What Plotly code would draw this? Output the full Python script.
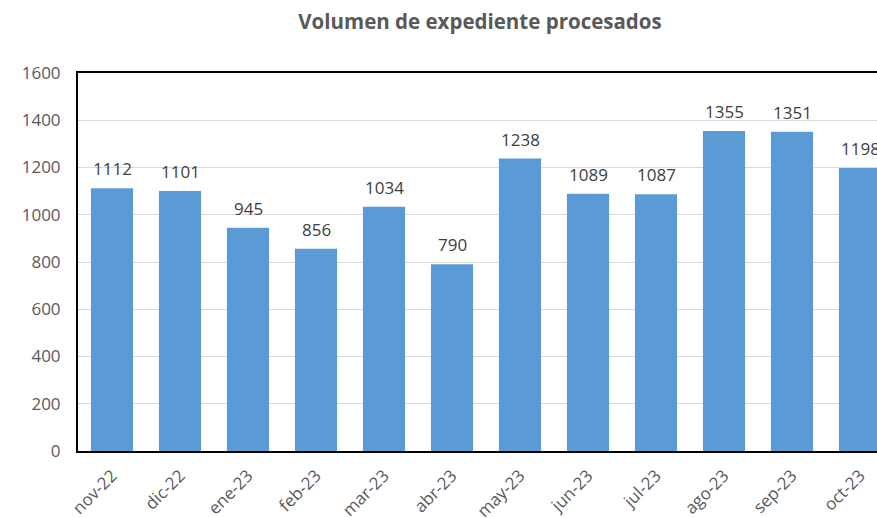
import plotly.graph_objects as go

months = ["nov-22", "dic-22", "ene-23", "feb-23", "mar-23", "abr-23",
          "may-23", "jun-23", "jul-23", "ago-23", "sep-23", "oct-23"]
volumes = [1112, 1101, 945, 856, 1034, 790, 1238, 1089, 1087, 1355, 1351, 1198]
y_ticks = [0, 200, 400, 600, 800, 1000, 1200, 1400, 1600]

FONT = "Open Sans, sans-serif"
W, H = 877, 518
L, T, B, R = 78, 73, 67, 0
cat_px = 68
x_end = -0.5 + (W - L - R) / cat_px

fig = go.Figure(go.Bar(
    x=months, y=volumes,
    marker=dict(color="#5B9BD5", line=dict(width=0)),
    showlegend=False,
))

for m, v in zip(months, volumes):
    fig.add_annotation(x=m, y=v, text=str(v), showarrow=False,
                       xanchor="center", yanchor="bottom", yshift=6,
                       font=dict(family=FONT, size=17, color="#404040"))

fig.update_layout(
    width=W, height=H,
    margin=dict(l=L, r=R, t=T, b=B, autoexpand=False),
    paper_bgcolor="white", plot_bgcolor="white",
    bargap=0.38,
    showlegend=False,
    title=dict(text="<b>Volumen de expediente procesados</b>",
               x=480 / W, xanchor="center", xref="container",
               y=1 - 22 / H, yanchor="middle", yref="container",
               font=dict(family=FONT, size=20.5, color="#595959")),
)
fig.update_xaxes(
    type="category", range=[-0.5, x_end], automargin=False,
    showline=True, linecolor="black", linewidth=2, mirror=True,
    tickangle=-45, ticks="", ticklabelstandoff=6,
    tickfont=dict(family=FONT, size=17, color="#595959"),
    showgrid=False,
)
fig.update_yaxes(
    range=[0, 1600], tickvals=y_ticks, automargin=False,
    showline=True, linecolor="black", linewidth=2, mirror=False,
    showgrid=True, gridcolor="#D9D9D9", gridwidth=1,
    tickfont=dict(family=FONT, size=17, color="#595959"),
    ticks="", ticklabelstandoff=12, zeroline=False,
)

fig.write_html(
    "out.html",
    config={"displayModeBar": False},
    post_script="document.body.style.margin='0';document.body.style.overflow='hidden';",
)
